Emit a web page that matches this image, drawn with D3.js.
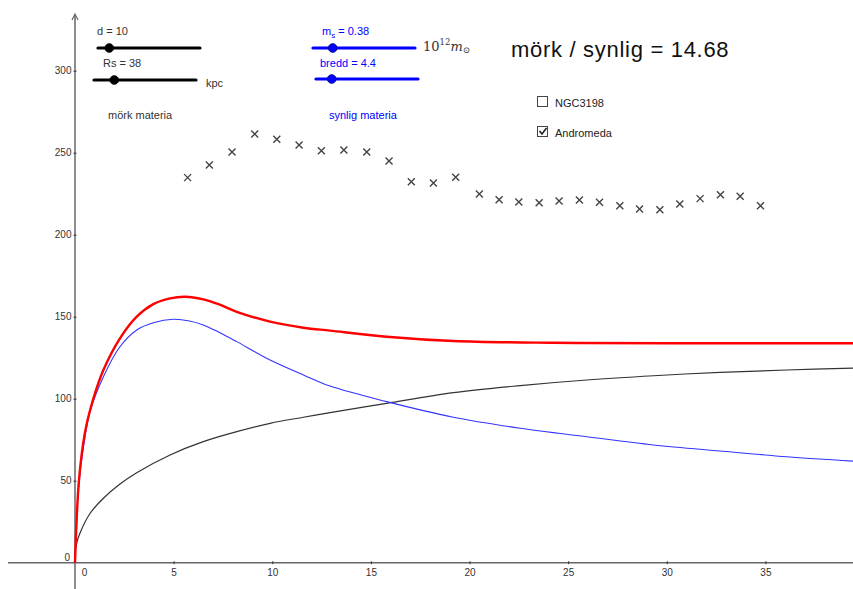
<!DOCTYPE html>
<html>
<head>
<meta charset="utf-8">
<script src="https://cdnjs.cloudflare.com/ajax/libs/d3/7.8.5/d3.min.js"></script>
<style>
body { margin: 0; background: #fff; }
text { font-family: "Liberation Sans", Arial, sans-serif; }
</style>
</head>
<body>
<script>
// Andromeda observed rotation speeds (kpc, km/s)
const obsX = [5.71, 6.81, 7.96, 9.11, 10.23, 11.36, 12.49, 13.63, 14.79, 15.92, 17.05, 18.17, 19.3, 20.5,
    21.5, 22.5, 23.53, 24.54, 25.57, 26.59, 27.62, 28.62, 29.65, 30.66, 31.69, 32.72, 33.72, 34.75];
const obsY = [234.8, 242.5, 250.4, 261.4, 258.2, 254.7, 251.2, 251.6, 250.4, 244.9, 232.3, 231.5, 235, 224.8,
    221.3, 219.9, 219.5, 220.5, 221.1, 219.8, 217.7, 215.7, 215.2, 218.7, 222, 224.4, 223.4, 217.7];

// total curve (red)
const totalX = [0, 0.2, 0.5, 0.93, 1.44, 2.28, 3.13, 3.97, 4.82, 5.58, 6.5, 7.3, 8.2, 9.89, 11.58, 12.93, 15.8, 19.18, 24.25, 30, 39.5];
const totalY = [0, 50, 79, 100, 117.5, 136.8, 150, 157.7, 161.2, 162.2, 160.6, 157.5, 153, 147, 143.3, 141.5, 137.8, 135.2, 134.1, 133.8, 133.8];

// visible matter (blue)
const visX = [0, 0.2, 0.5, 0.76, 1.44, 2.28, 3.13, 3.97, 4.99, 5.8, 6.5, 7.3, 8.2, 9.89, 11.58, 12.93, 15.8, 19.18, 22.57, 25.95, 29.33, 32.7, 36.09, 39.5];
const visY = [0, 48, 76, 92, 113.4, 131.7, 141.9, 146.3, 148.4, 147.4, 145, 140.5, 134.8, 123.6, 114.5, 107.7, 98.2, 88.7, 82, 76.8, 71.8, 68.1, 64.6, 61.9];

// dark matter (black)
const darkX = [0, 0.085, 0.25, 0.76, 1.44, 2.28, 3.13, 4.82, 6.5, 8.2, 9.89, 11.58, 12.93, 15.8, 19.18, 22.57, 25.95, 29.33, 32.7, 36.09, 39.5];
const darkY = [5, 12, 18, 30, 39.3, 48, 54.9, 65.7, 73.8, 79.9, 85, 88.7, 91.5, 97.2, 103.7, 108, 111.4, 114, 116.1, 117.5, 118.7];

const xTicks = [0, 5, 10, 15, 20, 25, 30, 35];
const yTicks = [50, 100, 150, 200, 250, 300];

const W = 853, H = 589;

var svg = d3.select("body").append("svg").attr("width", W).attr("height", H);

var x = d3.scaleLinear().domain([0, 35]).range([75, 765.4]);
var y = d3.scaleLinear().domain([0, 300]).range([562.7, 70.7]);

//axes
var axisCol = "#666";
svg.append("line").attr("x1", 8).attr("x2", W).attr("y1", y(0)).attr("y2", y(0))
    .attr("stroke", axisCol).attr("stroke-width", 1.5);
svg.append("line").attr("x1", x(0)).attr("x2", x(0)).attr("y1", 15).attr("y2", H)
    .attr("stroke", axisCol).attr("stroke-width", 1.5);
svg.append("path").attr("d", "M" + (x(0) - 3) + ",20 L" + x(0) + ",14 L" + (x(0) + 3) + ",20")
    .attr("fill", "none").attr("stroke", axisCol).attr("stroke-width", 1.2);

var xAxis = d3.axisBottom(x).tickValues(xTicks).tickSize(3).tickFormat(d3.format("d"));
var gx = svg.append("g").attr("transform", "translate(0," + (y(0) - 1.5) + ")").call(xAxis);
gx.select(".domain").remove();
gx.selectAll(".tick line").attr("stroke", "#333").filter(d => d === 0).remove();
gx.selectAll(".tick text").attr("fill", "#333").attr("font-size", 10).attr("dy", "0.9em")
    .filter(d => d === 0).attr("dx", 9);

var yAxis = d3.axisLeft(y).tickValues(yTicks).tickSize(3);
var gy = svg.append("g").attr("transform", "translate(" + (x(0) + 1.5) + ",0)").call(yAxis);
gy.select(".domain").remove();
gy.selectAll(".tick line").attr("stroke", "#333");
gy.selectAll(".tick text").attr("fill", "#333").attr("font-size", 10).attr("x", -5);
svg.append("text").attr("x", 70).attr("y", y(0) - 2).attr("text-anchor", "end")
    .attr("font-size", 10).attr("fill", "#333").text("0");

//curves
var line = d3.line().x(d => x(d[0])).y(d => y(d[1])).curve(d3.curveCatmullRom.alpha(0.5));
function drawCurve(xs, ys, col, w) {
    svg.append("path").datum(xs.map((v, i) => [v, ys[i]]))
        .attr("d", line).attr("fill", "none").attr("stroke", col).attr("stroke-width", w);
}
drawCurve(darkX, darkY, "#333", 1.2);
drawCurve(visX, visY, "#3333ff", 1.1);
drawCurve(totalX, totalY, "#ff0000", 2.4);

//observations
var s = 3.5;
svg.append("g").selectAll("path").data(obsX.map((v, i) => [v, obsY[i]])).enter().append("path")
    .attr("d", d => "M" + (x(d[0]) - s) + "," + (y(d[1]) - s) + "L" + (x(d[0]) + s) + "," + (y(d[1]) + s)
        + "M" + (x(d[0]) - s) + "," + (y(d[1]) + s) + "L" + (x(d[0]) + s) + "," + (y(d[1]) - s))
    .attr("stroke", "#444").attr("stroke-width", 1.4).attr("fill", "none");

//sliders
function slider(x1, x2, yy, knob, col) {
    svg.append("line").attr("x1", x1).attr("x2", x2).attr("y1", yy).attr("y2", yy)
        .attr("stroke", col).attr("stroke-width", 3.2).attr("stroke-linecap", "round");
    svg.append("circle").attr("cx", knob).attr("cy", yy).attr("r", 4.3).attr("fill", col)
        .attr("stroke", col == "#0000ff" ? "#00008b" : "#000").attr("stroke-width", 1);
}
slider(98, 200, 48, 109.3, "#000");
slider(94, 196, 80, 114.3, "#000");
slider(313, 415, 48, 332.7, "#0000ff");
slider(316, 418, 79, 331.7, "#0000ff");

var lab = svg.append("g").attr("font-size", 11).attr("fill", "#333");
lab.append("text").attr("x", 97).attr("y", 35).text("d = 10");
lab.append("text").attr("x", 103).attr("y", 67).text("Rs = 38");
lab.append("text").attr("x", 206).attr("y", 87).text("kpc");
lab.append("text").attr("x", 108).attr("y", 119).text("mörk materia");

var ms = lab.append("text").attr("x", 322).attr("y", 35).attr("fill", "#0000ff");
ms.append("tspan").text("m");
ms.append("tspan").attr("font-size", 8).attr("dy", 3).text("s");
ms.append("tspan").attr("dy", -3).text(" = 0.38");
lab.append("text").attr("x", 320).attr("y", 67).attr("fill", "#0000ff").text("bredd = 4.4");
lab.append("text").attr("x", 329).attr("y", 119).attr("fill", "#0000ff").text("synlig materia");

var unit = svg.append("text").attr("x", 423).attr("y", 51).attr("font-size", 13)
    .attr("fill", "#333").style("font-family", "'DejaVu Serif', 'Liberation Serif', serif");
unit.append("tspan").text("10");
unit.append("tspan").attr("font-size", 8.5).attr("dy", -6).text("12");
unit.append("tspan").attr("font-style", "italic").attr("dy", 6).text("m");
unit.append("tspan").attr("font-size", 8.5).attr("dy", 2).text("⊙");

svg.append("text").attr("x", 511).attr("y", 57).attr("font-size", 22).attr("letter-spacing", 0.7)
    .attr("fill", "#111").text("mörk / synlig = 14.68");

//checkboxes
function checkbox(yy, label, checked) {
    svg.append("rect").attr("x", 537.5).attr("y", yy - 10.5).attr("width", 10).attr("height", 10)
        .attr("fill", "#fff").attr("stroke", "#444").attr("stroke-width", 1);
    if (checked) {
        svg.append("path").attr("d", "M539.5," + (yy - 6) + " L542," + (yy - 3) + " L546.5," + (yy - 9))
            .attr("fill", "none").attr("stroke", "#222").attr("stroke-width", 1.6);
    }
    svg.append("text").attr("x", 555).attr("y", yy).attr("font-size", 11).attr("fill", "#222").text(label);
}
checkbox(107, "NGC3198", false);
checkbox(137, "Andromeda", true);
</script>
</body>
</html>
